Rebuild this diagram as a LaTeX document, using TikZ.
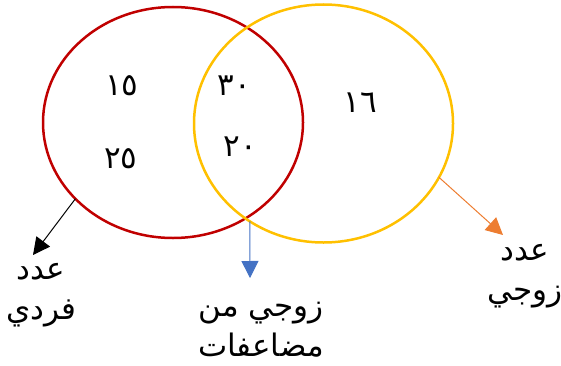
\documentclass[tikz,border=0pt]{standalone}
\usepackage{fontspec}
\newfontfamily\arabicfont[Script=Arabic]{DejaVu Sans}
\TeXXeTstate=1
\usetikzlibrary{shapes.geometric,arrows.meta}

\definecolor{oddred}{HTML}{C00000}
\definecolor{evenyellow}{HTML}{FFC000}
\definecolor{arroworange}{HTML}{ED7D31}
\definecolor{arrowblue}{HTML}{4472C4}

\tikzset{
  set/.style={ellipse, line width=2.5pt, inner sep=0pt, outer sep=0pt},
  num/.style={font=\arabicfont\fontsize{31}{31}\selectfont},
  tag/.style={font=\arabicfont\fontsize{31}{40}\selectfont, align=center},
  pointer/.style={line width=1pt, -{Triangle[length=17pt,width=17pt]}}
}

\begin{document}
\begin{tikzpicture}[x=1pt,y=1pt]
  \useasboundingbox (0,0) rectangle (561,365);

  \node[set, draw=oddred, minimum width=260pt, minimum height=231pt] (odd) at (173,242.5) {};
  \node[set, draw=evenyellow, minimum width=259pt, minimum height=238pt] (even) at (323.5,241.5) {};

  \node[num] (n15) at (122,279) {١٥};
  \node[num] (n25) at (121,206) {٢٥};
  \node[num] (n30) at (234,279) {٣٠};
  \node[num] (n20) at (240,218) {٢٠};
  \node[num] (n16) at (360,262) {١٦};

  \node[tag] (oddtag) at (41,70) {\beginR عدد\endR\\\beginR فردي\endR};
  \node[tag] (bothtag) at (261,35) {\beginR زوجي من\endR\\\beginR مضاعفات\endR};
  \node[tag] (eventag) at (525,89) {\beginR عدد\endR\\\beginR زوجي\endR};

  \coordinate (oddtip) at (33,110);
  \coordinate (bothtip) at (250,87);
  \coordinate (eventip) at (503,130);

  \draw[pointer, draw=black] (odd.218) -- (oddtip);
  \draw[pointer, draw=arrowblue] (even.233) -- (bothtip);
  \draw[pointer, draw=arroworange] (even.-25) -- (eventip);
\end{tikzpicture}
\end{document}
